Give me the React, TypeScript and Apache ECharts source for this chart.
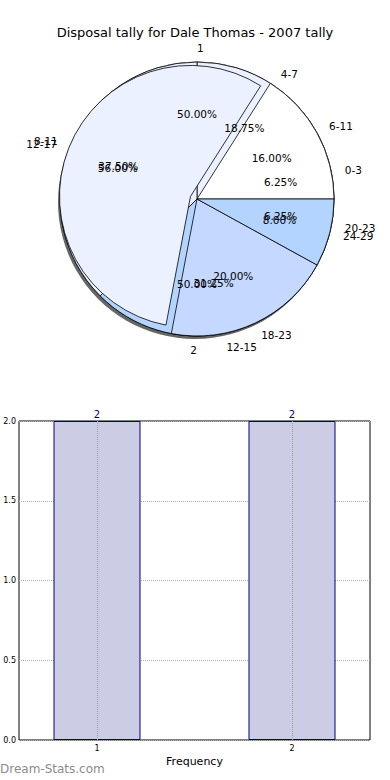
import React, { useEffect, useRef } from "react";
import * as echarts from "echarts";

const TITLE = "Disposal tally for Dale Thomas - 2007 tally";

const pieANames = ["1", "2"];
const pieAValues = [2, 2];
const pieAColors = ["#ebf1ff", "#b3d4ff"];

const pieBNames = ["0-3", "4-7", "8-11", "12-15", "20-23"];
const pieBValues = [1, 3, 6, 5, 1];
const pieBColors = ["#ffffff", "#ebf1ff", "#ebf1ff", "#b3d4ff", "#b3d4ff"];

const pieCNames = ["6-11", "12-17", "18-23", "24-29"];
const pieCValues = [4, 14, 5, 2];
const pieCColors = ["#ffffff", "#ebf1ff", "#c5d8ff", "#b3d4ff"];
const pieCExploded = "12-17";

const barCategories = [1, 2];
const barValues = [2, 2];
const X_LABEL = "Frequency";
const WATERMARK = "Dream-Stats.com";

const FONT = "DejaVu Sans";
const CENTER = [197, 199];
const R = 137;

function App() {
  const ref = useRef<HTMLDivElement>(null);

  useEffect(() => {
    if (!ref.current) return;
    const chart = echarts.init(ref.current, undefined, { renderer: "svg" });

    const base = {
      type: "pie",
      center: CENTER,
      startAngle: 0,
      clockwise: false,
      silent: true,
      avoidLabelOverlap: false,
      labelLayout: { hideOverlap: false },
      animation: false,
    };

    const visible = (names: string[], values: number[], colors: string[], z: number, hide?: (n: string) => boolean) => ({
      ...base,
      radius: R,
      z,
      label: { show: false },
      labelLine: { show: false },
      data: names.map((n, i) => ({
        name: n,
        value: values[i],
        itemStyle: hide && hide(n)
          ? { color: "rgba(0,0,0,0)", borderWidth: 0 }
          : { color: colors[i], borderColor: "#000", borderWidth: 0.8 },
      })),
    });

    const outerLabels = (names: string[], values: number[]) => ({
      ...base,
      radius: R,
      z: 10,
      itemStyle: { color: "rgba(0,0,0,0)", borderWidth: 0 },
      label: {
        show: true,
        position: "outside",
        formatter: "{b}",
        color: "#000",
        fontSize: 10.5,
        fontFamily: FONT,
        distanceToLabelLine: 0,
        bleedMargin: 0,
      },
      labelLine: { show: false, length: R * 0.1, length2: 0 },
      data: names.map((n, i) => ({ name: n, value: values[i] })),
    });

    const pctLabels = (names: string[], values: number[]) => {
      const total = values.reduce((a, b) => a + b, 0);
      return {
        ...base,
        radius: R * 1.2,
        z: 10,
        itemStyle: { color: "rgba(0,0,0,0)", borderWidth: 0 },
        label: {
          show: true,
          position: "inside",
          formatter: (p: any) => ((p.value / total) * 100).toFixed(2) + "%",
          color: "#000",
          fontSize: 10.5,
          fontFamily: FONT,
          textBorderWidth: 0,
        },
        labelLine: { show: false },
        data: names.map((n, i) => ({ name: n, value: values[i] })),
      };
    };

    const explodedC = {
      ...base,
      radius: R - 6,
      z: 4,
      selectedMode: "multiple",
      selectedOffset: 7,
      label: { show: false },
      labelLine: { show: false },
      data: pieCNames.map((n, i) => {
        const on = n === pieCExploded;
        const st = on
          ? { color: pieCColors[i], borderColor: "#000", borderWidth: 0.8 }
          : { color: "rgba(0,0,0,0)", borderWidth: 0 };
        return { name: n, value: pieCValues[i], selected: on, itemStyle: st, select: { itemStyle: st } };
      }),
    };

    const option: any = {
      animation: false,
      backgroundColor: "#fff",
      textStyle: { fontFamily: FONT },
      title: {
        text: TITLE,
        left: "center",
        top: 21,
        textStyle: { fontSize: 13, fontWeight: "normal", color: "#000", fontFamily: FONT },
      },
      grid: {
        left: 19,
        right: 20,
        top: 421,
        bottom: 40,
        show: true,
        borderColor: "#000",
        borderWidth: 1,
        backgroundColor: "transparent",
      },
      xAxis: {
        type: "value",
        min: 0.6,
        max: 2.4,
        interval: 0.2,
        axisLine: { show: false },
        axisTick: { show: false },
        splitLine: { show: false },
        axisLabel: {
          fontSize: 8,
          color: "#000",
          margin: 4,
          fontFamily: FONT,
          formatter: (v: number) => (Math.abs(v - Math.round(v)) < 1e-6 ? String(Math.round(v)) : ""),
        },
        name: X_LABEL,
        nameLocation: "middle",
        nameGap: 16,
        nameTextStyle: { fontSize: 11, color: "#000", fontFamily: FONT },
      },
      yAxis: {
        type: "value",
        min: 0,
        max: 2,
        interval: 0.5,
        axisLine: { show: false },
        axisTick: { show: false },
        axisLabel: {
          fontSize: 8,
          color: "#000",
          margin: 3,
          fontFamily: FONT,
          formatter: (v: number) => v.toFixed(1),
        },
        splitLine: { lineStyle: { color: "#b0b0b0", type: "dotted", width: 1 } },
      },
      graphic: [
        {
          type: "text",
          left: 0,
          top: 763,
          style: { text: WATERMARK, fill: "#8c8c8c", font: `12px "${FONT}"` },
        },
      ],
      series: [
        {
          ...base,
          radius: R,
          center: [CENTER[0] - 2, CENTER[1] + 3],
          z: 1,
          label: { show: false },
          labelLine: { show: false },
          itemStyle: { color: "rgba(0,0,0,0.6)", borderWidth: 0 },
          data: [{ name: "shadow", value: pieAValues.reduce((a, b) => a + b, 0) }],
        },
        visible(pieANames, pieAValues, pieAColors, 2),
        visible(pieBNames, pieBValues, pieBColors, 3),
        visible(pieCNames, pieCValues, pieCColors, 3, (n) => n === pieCExploded),
        explodedC,
        outerLabels(pieANames, pieAValues),
        outerLabels(pieBNames, pieBValues),
        outerLabels(pieCNames, pieCValues),
        pctLabels(pieANames, pieAValues),
        pctLabels(pieBNames, pieBValues),
        pctLabels(pieCNames, pieCValues),
        {
          type: "bar",
          barWidth: 87,
          z: 2,
          itemStyle: { color: "#ccccE5", borderColor: "#000080", borderWidth: 1 },
          label: { show: true, position: "top", color: "#000080", fontSize: 10, distance: 2, fontFamily: FONT },
          data: barCategories.map((c, i) => [c, barValues[i]]),
          markLine: {
            silent: true,
            symbol: "none",
            label: { show: false },
            lineStyle: { color: "#a0a0a0", type: "dotted", width: 1 },
            data: barCategories.map((c) => ({ xAxis: c })),
          },
        },
      ],
    };

    chart.setOption(option);
    return () => chart.dispose();
  }, []);

  return (
    <div
      ref={ref}
      style={{ position: "absolute", left: 0, top: 0, width: 390, height: 780 }}
    />
  );
}

export default App;
